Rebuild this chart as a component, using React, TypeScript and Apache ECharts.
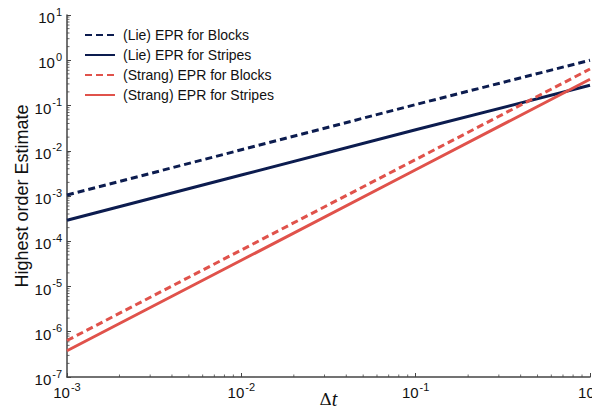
import React, { useEffect, useRef } from "react";
import * as echarts from "echarts";

const dt = [0.001, 0.01, 0.1, 1];
const lieBlocks = [1.05e-3, 1.05e-2, 1.05e-1, 1.0];
const lieStripes = [2.9e-4, 2.9e-3, 2.9e-2, 0.28];
const strangBlocks = [6.4e-7, 6.4e-5, 6.4e-3, 0.64];
const strangStripes = [3.8e-7, 3.8e-5, 3.8e-3, 0.38];
const seriesNames = [
  "(Lie) EPR for Blocks",
  "(Lie) EPR for Stripes",
  "(Strang) EPR for Blocks",
  "(Strang) EPR for Stripes",
];
const xMinorTicks = [2, 3, 4, 5, 6, 7, 8, 9].flatMap((k) => [k * 1e-3, k * 1e-2, k * 1e-1]);
const yMinorTicks = [2, 3, 4, 5, 6, 7, 8, 9].flatMap((k) =>
  [-7, -6, -5, -4, -3, -2, -1, 0].map((e) => k * Math.pow(10, e))
);

const NAVY = "#0c1c4f";
const RED = "#e0524b";

const pow10Label = (v: number) => {
  const e = Math.round(Math.log10(v));
  return `{b|10}{s|${e}}`;
};
const rich = {
  b: { fontSize: 15, fontFamily: "Liberation Sans", color: "#111", lineHeight: 20, verticalAlign: "bottom" },
  s: { fontSize: 11, fontFamily: "Liberation Sans", color: "#111", lineHeight: 20, verticalAlign: "top", padding: [1, 0, 0, 1] },
};

export default function App() {
  const ref = useRef<HTMLDivElement>(null);
  useEffect(() => {
    const chart = echarts.init(ref.current!, null, { renderer: "svg" });
    const mk = (name: string, ys: number[], color: string, dashed: boolean) => ({
      name,
      type: "line",
      data: dt.map((x, i) => [x, ys[i]]),
      showSymbol: false,
      symbol: "none",
      lineStyle: { color, width: 3, type: dashed ? [7, 4] : "solid" },
      itemStyle: { color },
    });
    chart.setOption({
      animation: false,
      textStyle: { fontFamily: "Liberation Sans" },
      grid: { left: 67, right: 10, top: 15, bottom: 40, containLabel: false, outerBoundsMode: "none" },
      legend: {
        data: seriesNames,
        orient: "vertical",
        left: 79,
        top: 23,
        itemWidth: 30,
        itemHeight: 14,
        itemGap: 6,
        itemStyle: { opacity: 0 },
        textStyle: { fontSize: 14, color: "#111", fontFamily: "Liberation Sans", padding: [0, 0, 0, 3] },
      },
      xAxis: {
        type: "log",
        logBase: 10,
        min: 0.001,
        max: 1,
        interval: 1,
        name: "{d|Δ}{t|t}",
        nameLocation: "middle",
        nameGap: 22,
        nameMoveOverlap: false,
        nameTextStyle: {
          verticalAlign: "middle",
          lineHeight: 20,
          rich: {
            d: { fontFamily: "DejaVu Serif", fontSize: 17, color: "#111", lineHeight: 20 },
            t: { fontFamily: "Liberation Serif", fontStyle: "italic", fontSize: 20, color: "#111", lineHeight: 20 },
          },
        },
        axisLine: { show: true, lineStyle: { color: "#444", width: 1.5 } },
        axisTick: { show: true, inside: true, length: 4, lineStyle: { color: "#444", width: 1 } },
        axisLabel: { formatter: pow10Label, rich, margin: 3 },
        splitLine: { show: false },
      },
      yAxis: {
        type: "log",
        logBase: 10,
        min: 1e-7,
        max: 10,
        interval: 1,
        name: "Highest order Estimate",
        nameLocation: "middle",
        nameGap: 36,
        nameMoveOverlap: false,
        nameTextStyle: { fontSize: 18, color: "#111", fontFamily: "Liberation Sans" },
        axisLine: { show: true, lineStyle: { color: "#444", width: 1.5 } },
        axisTick: { show: true, inside: true, length: 4, lineStyle: { color: "#444", width: 1 } },
        axisLabel: { formatter: pow10Label, rich, margin: 5 },
        splitLine: { show: false },
      },
      series: [
        mk(seriesNames[0], lieBlocks, NAVY, true),
        mk(seriesNames[1], lieStripes, NAVY, false),
        mk(seriesNames[2], strangBlocks, RED, true),
        mk(seriesNames[3], strangStripes, RED, false),
        {
          type: "custom",
          silent: true,
          data: xMinorTicks.map((x) => [x, 1e-7]),
          renderItem: (params: any, api: any) => {
            const p = api.coord([api.value(0), api.value(1)]);
            return {
              type: "line",
              shape: { x1: p[0], y1: p[1], x2: p[0], y2: p[1] - 2.5 },
              style: { stroke: "#444", lineWidth: 0.8 },
            };
          },
        },
        {
          type: "custom",
          silent: true,
          data: yMinorTicks.map((y) => [0.001, y]),
          renderItem: (params: any, api: any) => {
            const p = api.coord([api.value(0), api.value(1)]);
            return {
              type: "line",
              shape: { x1: p[0], y1: p[1], x2: p[0] + 2.5, y2: p[1] },
              style: { stroke: "#444", lineWidth: 0.8 },
            };
          },
        },
      ],
    });
    return () => chart.dispose();
  }, []);
  return <div ref={ref} style={{ width: 600, height: 417, margin: -8 }} />;
}
